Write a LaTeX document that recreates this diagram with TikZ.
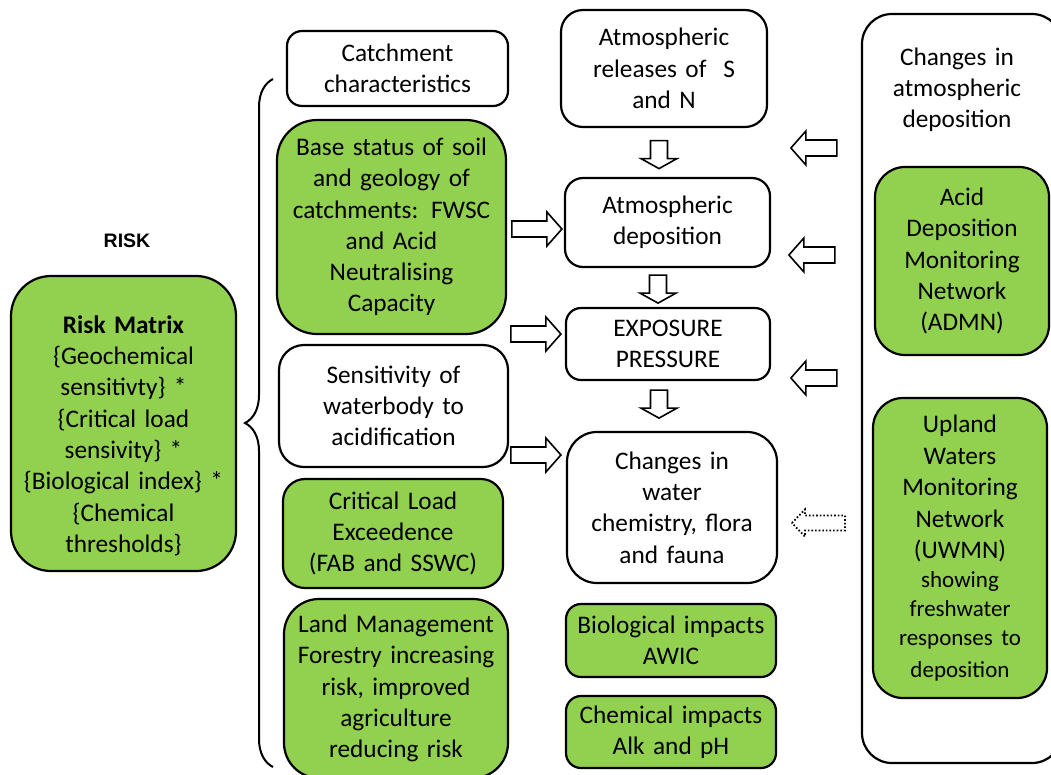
\documentclass[tikz,border=0pt]{standalone}
\usepackage{fontspec}
\setmainfont{Carlito}[WordSpace=0.8]
\newfontfamily\arialfont{Liberation Sans}
\usetikzlibrary{decorations.pathreplacing,calc}
\definecolor{lg}{RGB}{146,208,80}
\tikzset{
  basebox/.style={draw=black, line width=2.2pt, align=center, inner sep=0pt,
    font=\fontsize{25.3}{31.3}\selectfont, text=black},
  wbox/.style={basebox, fill=white},
  gbox/.style={basebox, fill=lg},
  arrline/.style={draw=black, fill=white, line width=1.6pt, line join=miter},
  rarrow/.pic={\path[arrline] (0,0) -- (-15,-17) -- (-15,-8) -- (-50,-8) -- (-50,8) -- (-15,8) -- (-15,17) -- cycle;},
  larrow/.pic={\path[arrline] (0,0) -- (15,-17) -- (15,-8) -- (46,-8) -- (46,8) -- (15,8) -- (15,17) -- cycle;},
  darrow/.pic={\path[arrline] (0,0) -- (-18,-10) -- (-8.5,-10) -- (-8.5,-28) -- (8.5,-28) -- (8.5,-10) -- (18,-10) -- cycle;},
  dotarrow/.pic={\path[arrline, dotted, line width=1.8pt] (0,0) -- (13,-13.5) -- (13,-7.5) -- (53,-7.5) -- (53,7.5) -- (13,7.5) -- (13,13.5) -- cycle;}
}
\begin{document}
\begin{tikzpicture}[x=1pt,y=-1pt]
\useasboundingbox (0,0) rectangle (1051,774);
\fill[white] (0,0) rectangle (1051,774);

% left: RISK
\node[font=\arialfont\bfseries\fontsize{19.5}{22}\selectfont] (risklbl) at (127,241) {RISK};
\node[gbox, rounded corners=40pt, minimum width=225pt, minimum height=295pt, text width=215pt] (risk) at (123.5,423.5)
 {\rule{0pt}{42pt}\textbf{Risk Matrix}\\ \{Geochemical\\ sensitivty\} *\\ \{Critical load\\ sensivity\} *\\ \{Biological index\} *\\ \{Chemical\\ thresholds\}};

% brace
\draw[line width=2pt, decorate, decoration={brace, amplitude=28pt}] (273,767) -- (273,79) coordinate (bracetop);

% second column
\node[wbox, rounded corners=15pt, minimum width=221pt, minimum height=75pt, text width=215pt] (catch) at (397.5,68.5) {Catchment\\ characteristics};
\node[gbox, rounded corners=40pt, minimum width=229pt, minimum height=214pt, text width=222pt] (base) at (391.5,227) {Base status of soil\\ and geology of\\ catchments: FWSC\\ and Acid\\ Neutralising\\ Capacity};
\node[wbox, rounded corners=25pt, minimum width=229pt, minimum height=122pt, text width=222pt] (sens) at (393.5,406) {Sensitivity of\\ waterbody to\\ acidification};
\node[gbox, rounded corners=22pt, minimum width=220pt, minimum height=109pt, text width=214pt] (crit) at (393,533.5) {Critical Load\\ Exceedence\\ (FAB and SSWC)};
\node[gbox, rounded corners=35pt, minimum width=224pt, minimum height=179pt, text width=218pt] (land) at (396,688.5) {Land Management\\ Forestry increasing\\ risk, improved\\ agriculture\\ reducing risk};

% middle column
\node[wbox, rounded corners=22pt, minimum width=206pt, minimum height=117pt, text width=200pt] (rel) at (664,68.5) {Atmospheric\\ releases of\ \ S\\ and N};
\node[wbox, rounded corners=18pt, minimum width=205pt, minimum height=89pt, text width=199pt] (dep) at (667.5,222.5) {Atmospheric\\ deposition};
\node[wbox, rounded corners=15pt, minimum width=204pt, minimum height=72pt, text width=198pt] (exp) at (668,344) {EXPOSURE\\ PRESSURE};
\node[wbox, rounded corners=30pt, minimum width=210pt, minimum height=151pt, text width=204pt] (chg) at (672,507.5) {Changes in\\ water\\ chemistry, flora\\ and fauna};
\node[gbox, rounded corners=15pt, minimum width=210pt, minimum height=73pt, text width=206pt] (bio) at (671,640.5) {Biological impacts\\ AWIC};
\node[gbox, rounded corners=15pt, minimum width=210pt, minimum height=72pt, text width=206pt] (chem) at (671,732) {Chemical impacts\\ Alk and pH};

% right column
\node[wbox, rounded corners=30pt, minimum width=200pt, minimum height=749pt] (outer) at (962,388.5) {};
\node[font=\fontsize{25.3}{31}\selectfont, align=center, text width=180pt] (rtitle) at (957,90) {Changes in\\ atmospheric\\ deposition};
\node[gbox, rounded corners=30pt, minimum width=174pt, minimum height=188pt, text width=168pt] (admn) at (962,261) {Acid\\ Deposition\\ Monitoring\\ Network\\ (ADMN)};
\node[gbox, rounded corners=30pt, minimum width=174pt, minimum height=300pt, text width=168pt, font=\fontsize{25.3}{31.5}\selectfont] (uwmn) at (960,548) {Upland\\ Waters\\ Monitoring\\ Network\\ (UWMN)\\ \fontsize{23}{29}\selectfont showing\\ freshwater\\ responses to\\ deposition};

% block arrows
\pic at ($(rel.south)+(-5,40.5)$) {darrow};
\pic at ($(dep.south)+(-9.5,35)$) {darrow};
\pic at ($(exp.south)+(-9,37)$) {darrow};
\pic at ($(dep.west)+(-2,6.5)$) {rarrow};
\pic at ($(exp.west)+(-4,-10)$) {rarrow};
\pic at ($(chg.west)+(-5,-52.5)$) {rarrow};
\pic at ($(outer.west)+(-70,-240.5)$) {larrow};
\pic at ($(outer.west)+(-72,-133.5)$) {larrow};
\pic at ($(outer.west)+(-70,-10.5)$) {larrow};
\pic at ($(outer.west)+(-69,134.5)$) {dotarrow};
\end{tikzpicture}
\end{document}
